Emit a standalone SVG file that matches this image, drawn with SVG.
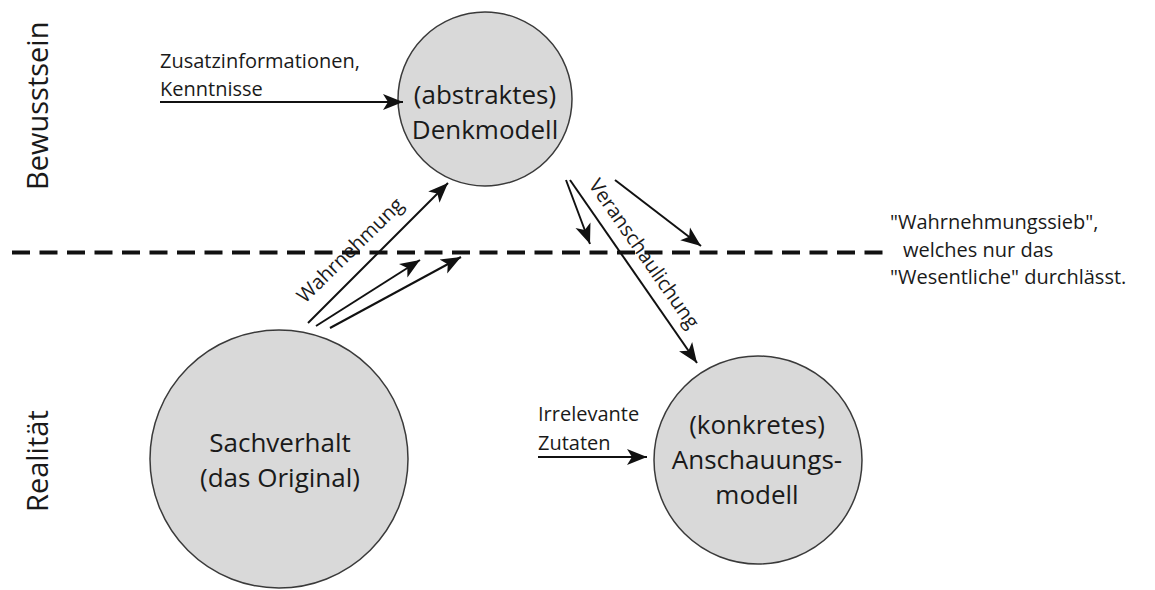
<svg xmlns="http://www.w3.org/2000/svg" width="1155" height="590" viewBox="0 0 1155 590">
  <style>
    .node { fill: #d9d9d9; stroke: #3a3a3a; stroke-width: 1.5; }
    .t { font-family: "Open Sans", "Noto Sans", sans-serif; fill: #1a1a1a; }
    .lbl { font-size: 20px; }
    .ntx { font-size: 26px; text-anchor: middle; }
    .side { font-size: 29px; }
    .arr { stroke: #111; stroke-width: 2; fill: none; marker-end: url(#ah); }
    .sieve { stroke: #111; stroke-width: 4; stroke-dasharray: 18 9.5; fill: none; }
  </style>
  <defs>
    <marker id="ah" markerUnits="userSpaceOnUse" markerWidth="22" markerHeight="18" refX="20" refY="9" orient="auto" viewBox="0 0 22 18">
      <path d="M0,1 L20,9 L0,17 L5,9 z" fill="#111"/>
    </marker>
  </defs>

  <g id="side-labels">
    <text class="t side" transform="translate(48,190) rotate(-90)">Bewusstsein</text>
    <text class="t side" transform="translate(48,512) rotate(-90)">Realität</text>
  </g>

  <line class="sieve" x1="12" y1="252.5" x2="886" y2="252.5"/>

  <g id="node-denkmodell">
    <circle class="node" cx="485" cy="99" r="87"/>
    <text class="t ntx" x="485" y="104">(abstraktes)</text>
    <text class="t ntx" x="485" y="139">Denkmodell</text>
  </g>

  <g id="node-sachverhalt">
    <circle class="node" cx="279" cy="459" r="129"/>
    <text class="t ntx" x="280" y="452">Sachverhalt</text>
    <text class="t ntx" x="280" y="487">(das Original)</text>
  </g>

  <g id="node-anschauungsmodell">
    <circle class="node" cx="758" cy="460" r="104"/>
    <text class="t ntx" x="757" y="434">(konkretes)</text>
    <text class="t ntx" x="757" y="469">Anschauungs-</text>
    <text class="t ntx" x="757" y="504">modell</text>
  </g>

  <g id="connectors">
    <line class="arr" x1="160" y1="102" x2="403" y2="102"/>
    <line class="arr" x1="308" y1="323" x2="448" y2="183"/>
    <line class="arr" x1="316" y1="326" x2="420" y2="260"/>
    <line class="arr" x1="330" y1="328" x2="461" y2="257"/>
    <line class="arr" x1="566" y1="180" x2="590" y2="244"/>
    <line class="arr" x1="570" y1="180" x2="697" y2="363"/>
    <line class="arr" x1="615" y1="180" x2="701" y2="246"/>
    <line class="arr" x1="538" y1="457" x2="647" y2="457"/>
  </g>

  <g id="labels">
    <text class="t lbl" x="160" y="68">Zusatzinformationen,</text>
    <text class="t lbl" x="160" y="96">Kenntnisse</text>
    <text class="t lbl" transform="translate(305,304) rotate(-44.5)">Wahrnehmung</text>
    <text class="t lbl" transform="translate(588,185) rotate(55.2)">Veranschaulichung</text>
    <text class="t lbl" x="538" y="421">Irrelevante</text>
    <text class="t lbl" x="538" y="450">Zutaten</text>
    <text class="t lbl" x="890" y="229">"Wahrnehmungssieb",</text>
    <text class="t lbl" x="903" y="257">welches nur das</text>
    <text class="t lbl" x="890" y="284">"Wesentliche" durchlässt.</text>
  </g>
</svg>
